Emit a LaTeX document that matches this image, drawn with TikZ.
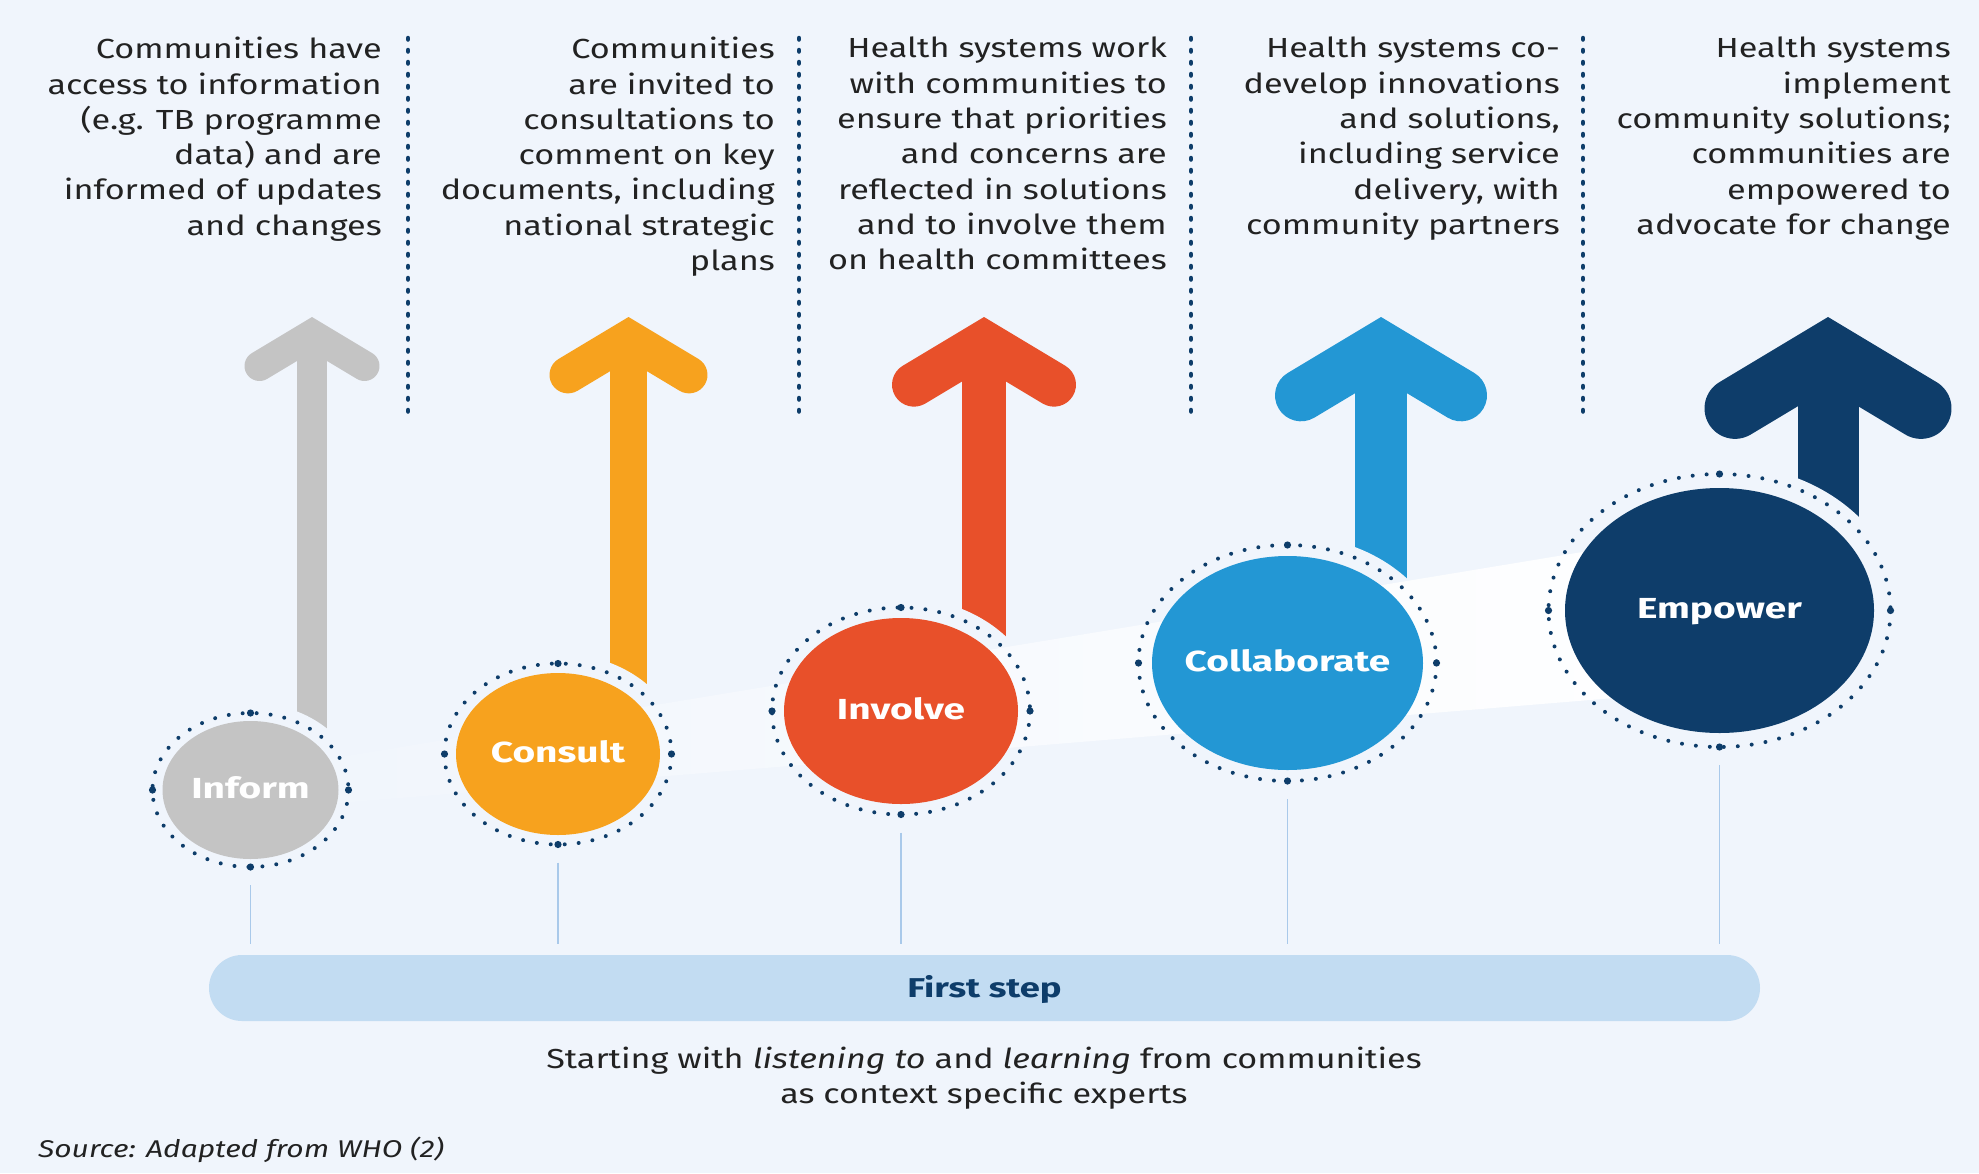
\documentclass[tikz,border=0pt]{standalone}
\usepackage{fontspec}
\setmainfont{Fira Sans}[FakeStretch=1.24, BoldFeatures={FakeStretch=1.34}]
\usetikzlibrary{calc}
\definecolor{bg}{HTML}{F0F5FC}
\definecolor{cgray}{HTML}{C4C4C4}
\definecolor{corange}{HTML}{F7A21E}
\definecolor{cred}{HTML}{E8502A}
\definecolor{cblue}{HTML}{2397D4}
\definecolor{cnavy}{HTML}{0E3D6A}
\definecolor{ctext}{HTML}{222222}
\definecolor{cbar}{HTML}{C2DCF2}
\definecolor{cvline}{HTML}{A9C9EA}
\tikzset{
  toptext/.style={anchor=north east, inner sep=0pt, align=right, text=ctext,
    font=\fontsize{27.6}{35.3}\selectfont},
  sep/.style={cnavy, line width=4.5pt, line cap=round, dash pattern=on 1.5pt off 10.5pt},
  ring/.style={cnavy, line width=4pt, line cap=round, dash pattern=on 0pt off 14pt},
  stagelabel/.style={anchor=base, inner sep=0pt, text=white, font=\fontsize{29}{34}\selectfont\bfseries},
  vline/.style={cvline, line width=1.5pt},
}
\newcommand\stagearrow[6]{% cx, width, halfspan, shaft end y, colour, name
  \pgfmathsetmacro\apx{317+0.583*#2}
  \pgfmathsetmacro\adx{#3-#2/2}
  \pgfmathsetmacro\ady{0.6*\adx}
  \coordinate (#6tip) at (#1,\apx);
  \coordinate (#6foot) at (#1,#4);
  \draw[#5, line width=#2pt] (#6tip) -- (#6foot);
  \draw[#5, line width=#2pt, line cap=round, miter limit=10]
    ({#1-\adx},{\apx+\ady}) -- (#6tip) -- ({#1+\adx},{\apx+\ady});
}
\newcommand\stagemask[3]{% centre, ring rx, ring ry
  \fill[bg] (#1) ellipse [x radius=#2+10, y radius=#3+10];
}
\newcommand\stagedisc[6]{% centre, fill rx, fill ry, ring rx, ring ry, colour
  \draw[ring] (#1) ellipse [x radius=#4, y radius=#5];
  \fill[cnavy] ($(#1)+(0,-#5)$) circle [radius=3.6];
  \fill[cnavy] ($(#1)+(0,#5)$) circle [radius=3.6];
  \fill[cnavy] ($(#1)+(-#4,0)$) circle [radius=3.6];
  \fill[cnavy] ($(#1)+(#4,0)$) circle [radius=3.6];
  \fill[#6] (#1) ellipse [x radius=#2, y radius=#3];
}
\begin{document}
\begin{tikzpicture}[x=1pt,y=-1pt]
\fill[bg] (0,0) rectangle (1979,1173);
\useasboundingbox (0,0) rectangle (1979,1173);

% centres
\coordinate (cInf) at (250.5,790);
\coordinate (cCon) at (558,754);
\coordinate (cInv) at (901,711);
\coordinate (cCol) at (1287.5,663);
\coordinate (cEmp) at (1719.5,610.5);

% top texts
\node[toptext] (t1) at (382,37) {Communities have\\access to information\\(e.g. TB programme\\data) and are\\informed of updates\\and changes};
\node[toptext] (t2) at (775,37) {Communities\\are invited to\\consultations to\\comment on key\\documents, including\\national strategic\\plans};
\node[toptext] (t3) at (1167,37) {Health systems work\\with communities to\\ensure that priorities\\and concerns are\\reflected in solutions\\and to involve them\\on health committees};
\node[toptext] (t4) at (1560,37) {Health systems co-\\develop innovations\\and solutions,\\including service\\delivery, with\\community partners};
\node[toptext] (t5) at (1951,37) {Health systems\\implement\\community solutions;\\communities are\\empowered to\\advocate for change};

% dotted separators
\foreach \sx/\nm in {408/s1,799/s2,1191/s3,1583/s4}{
  \coordinate (\nm top) at (\sx,38);
  \coordinate (\nm bot) at (\sx,412);
  \draw[sep] (\nm top) -- (\nm bot);
}

% arrows
\stagearrow{312}{30}{67.5}{790}{cgray}{aInf}
\stagearrow{628.5}{37}{79}{754}{corange}{aCon}
\stagearrow{984}{44}{92}{711}{cred}{aInv}
\stagearrow{1381}{52}{106}{663}{cblue}{aCol}
\stagearrow{1828}{61}{123.5}{610}{cnavy}{aEmp}

% masks cutting the shafts
\stagemask{cInf}{98}{77}
\stagemask{cCon}{113.5}{90.5}
\stagemask{cInv}{129}{103.5}
\stagemask{cCol}{149}{118}
\stagemask{cEmp}{171}{136.5}

% light band
\shade[left color=bg, right color=white]
  (250,771.9) -- (1720,529.3) -- (1720,689.3) -- (250,810.4) -- cycle;

% discs
\stagedisc{cInf}{88}{69}{98}{77}{cgray}
\stagedisc{cCon}{102}{81}{113.5}{90.5}{corange}
\stagedisc{cInv}{117}{93}{129}{103.5}{cred}
\stagedisc{cCol}{135.5}{107}{149}{118}{cblue}
\stagedisc{cEmp}{154.5}{122.5}{171}{136.5}{cnavy}

\node[stagelabel] (inform) at ($(cInf)+(0,8)$) {Inform};
\node[stagelabel] (consult) at ($(cCon)+(0,8)$) {Consult};
\node[stagelabel] (involve) at ($(cInv)+(0,8)$) {Involve};
\node[stagelabel] (collaborate) at ($(cCol)+(0,8)$) {Collaborate};
\node[stagelabel] (empower) at ($(cEmp)+(0,8)$) {Empower};

% first step bar
\node[fill=cbar, minimum width=1551pt, minimum height=66pt, rounded corners=33pt,
  inner sep=0pt, text=cnavy, text height=18.6pt, text depth=0pt,
  font=\fontsize{27.2}{30}\selectfont\bfseries] (bar) at (984.5,988) {First step};

% thin vertical lines
\foreach \c/\ry/\nm in {cInf/77/li,cCon/90.5/lc,cInv/103.5/lv,cCol/118/lo,cEmp/136.5/le}{
  \coordinate (\nm) at ($(\c)+(0,\ry+18)$);
  \draw[vline] (\nm) -- ([yshift=11pt]\nm |- bar.north);
}

% bottom text
\node[anchor=north, align=center, inner sep=0pt, text=ctext,
  font=\fontsize{27.5}{35.3}\selectfont] (start) at (984,1047)
  {Starting with \textit{listening to} and \textit{learning} from communities\\as context specific experts};

\node[anchor=base west, inner sep=0pt, text=ctext,
  font=\fontsize{24.2}{28}\selectfont\itshape] (source) at (38,1157) {Source: Adapted from WHO (2)};
\end{tikzpicture}
\end{document}
